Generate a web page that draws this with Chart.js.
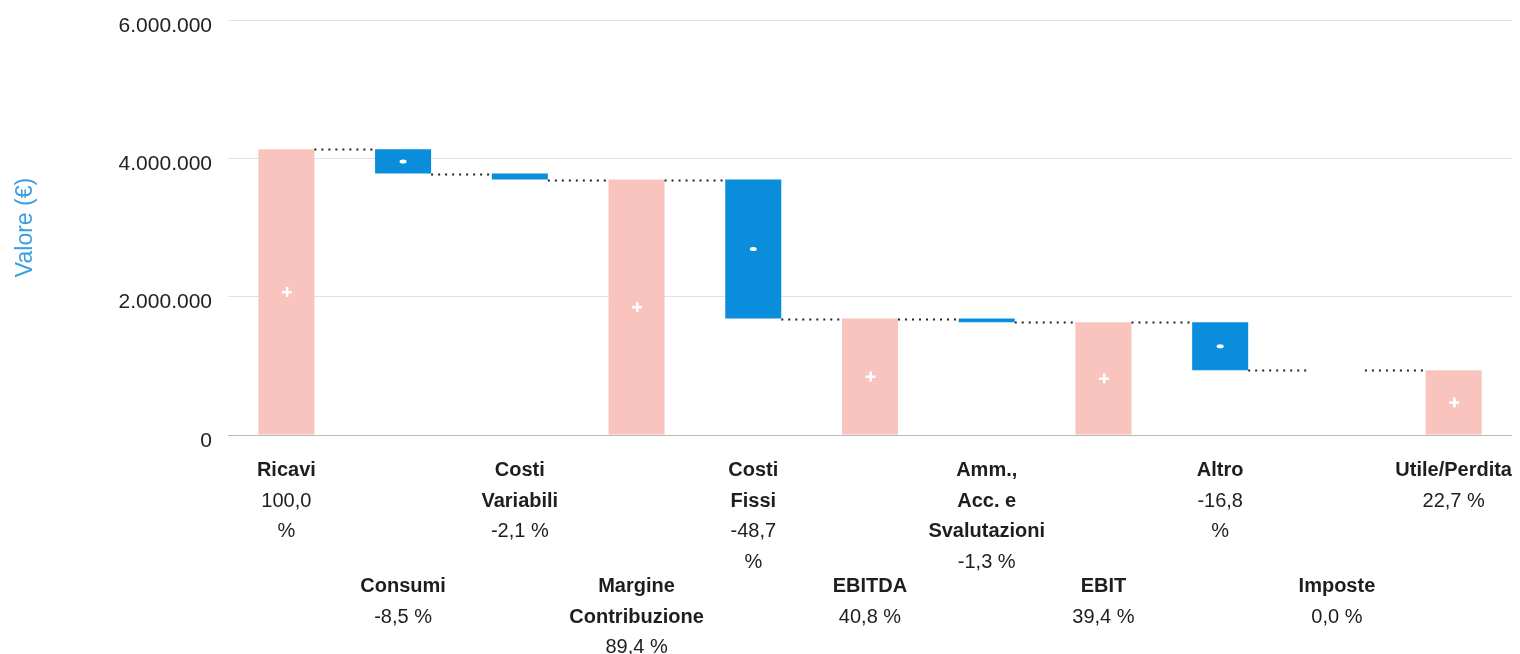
<!DOCTYPE html>
<html lang="it">
<head>
<meta charset="utf-8">
<title>Conto economico a cascata</title>
<script src="https://cdn.jsdelivr.net/npm/chart.js@4/dist/chart.umd.min.js"></script>
<style>
  html, body { margin: 0; padding: 0; background: #ffffff; }
  #wrap { width: 1520px; height: 654px; position: relative; }
</style>
</head>
<body>
<div id="wrap"><canvas id="cascata" width="1520" height="654"></canvas></div>
<script>
// Voci del conto economico (righe in grassetto sotto ogni barra)
const nameLines = [
  ['Ricavi'], ['Consumi'], ['Costi', 'Variabili'], ['Margine', 'Contribuzione'],
  ['Costi', 'Fissi'], ['EBITDA'], ['Amm.,', 'Acc. e', 'Svalutazioni'], ['EBIT'],
  ['Altro'], ['Imposte'], ['Utile/Perdita']
];
// Incidenza percentuale sui ricavi
const pctLines = [
  ['100,0', '%'], ['-8,5 %'], ['-2,1 %'], ['89,4 %'], ['-48,7', '%'], ['40,8 %'],
  ['-1,3 %'], ['39,4 %'], ['-16,8', '%'], ['0,0 %'], ['22,7 %']
];
// Importi in euro: i totali sono valori assoluti, le altre voci variazioni
const amounts = [4130000, -349400, -86730, 3693870, -2009660, 1684210, -55340, 1628870, -693010, 0, 935860];
const isTotal = [true, false, false, true, false, true, false, true, false, false, true];
const yTicks = [0, 2000000, 4000000, 6000000];

const categories = nameLines.map(l => l.join(' '));

// Intervalli flottanti e livello progressivo dopo ogni voce
const ranges = [];
const levels = [];
let running = 0;
amounts.forEach((v, i) => {
  if (isTotal[i]) { ranges.push([0, v]); running = v; }
  else { ranges.push([running, running + v]); running += v; }
  levels.push(running);
});

const PINK = '#f9c3be';
const BLUE = '#0a8edb';
const FONT = '"Liberation Sans", Arial, sans-serif';

const fmtIt = n => String(n).replace(/\B(?=(\d{3})+(?!\d))/g, '.');

// Linee tratteggiate di raccordo tra una barra e la successiva
const connectors = {
  id: 'connectors',
  afterDatasetsDraw(chart) {
    const meta = chart.getDatasetMeta(0);
    const y = chart.scales.y;
    const ctx = chart.ctx;
    ctx.save();
    ctx.strokeStyle = '#222';
    ctx.lineWidth = 2;
    ctx.setLineDash([2, 5]);
    for (let i = 0; i < meta.data.length - 1; i++) {
      const a = meta.data[i], b = meta.data[i + 1];
      const py = Math.round(y.getPixelForValue(levels[i])) + 0.5;
      ctx.beginPath();
      ctx.moveTo(a.x + a.width / 2, py);
      ctx.lineTo(b.x - b.width / 2, py);
      ctx.stroke();
    }
    ctx.restore();
  }
};

// Segni + / - al centro delle barre abbastanza alte
const signs = {
  id: 'signs',
  afterDatasetsDraw(chart) {
    const meta = chart.getDatasetMeta(0);
    const ctx = chart.ctx;
    ctx.save();
    ctx.fillStyle = '#ffffff';
    meta.data.forEach((bar, i) => {
      if (Math.abs(bar.base - bar.y) < 10) return;
      const cy = (bar.y + bar.base) / 2;
      if (isTotal[i]) {
        ctx.fillRect(bar.x - 4.5, cy - 1, 10, 2.5);
        ctx.fillRect(bar.x - 0.5, cy - 5, 2.5, 10);
      } else {
        ctx.beginPath();
        ctx.ellipse(bar.x, cy, 3.5, 2, 0, 0, Math.PI * 2);
        ctx.fill();
      }
    });
    ctx.restore();
  }
};

// Etichette delle categorie su due file alternate
const catLabels = {
  id: 'catLabels',
  afterDraw(chart) {
    const x = chart.scales.x;
    const base = chart.chartArea.bottom;
    const ctx = chart.ctx;
    const lh = 30.5;
    ctx.save();
    ctx.fillStyle = '#1e1e1e';
    ctx.textAlign = 'center';
    ctx.textBaseline = 'alphabetic';
    nameLines.forEach((names, i) => {
      const cx = x.getPixelForValue(i);
      let yy = base + (i % 2 === 0 ? 41 : 157);
      ctx.font = 'bold 20px ' + FONT;
      names.forEach(t => { ctx.fillText(t, cx, yy); yy += lh; });
      ctx.font = '20px ' + FONT;
      pctLines[i].forEach(t => { ctx.fillText(t, cx, yy); yy += lh; });
    });
    ctx.restore();
  }
};

new Chart(document.getElementById('cascata'), {
  type: 'bar',
  data: {
    labels: categories,
    datasets: [{
      data: ranges,
      backgroundColor: isTotal.map(t => t ? PINK : BLUE),
      borderWidth: 0,
      barPercentage: 0.48,
      categoryPercentage: 1.0
    }]
  },
  options: {
    responsive: false,
    animation: false,
    events: [],
    layout: { padding: { top: 20, right: 8, bottom: 211, left: 0 } },
    plugins: {
      legend: { display: false },
      tooltip: { enabled: false }
    },
    scales: {
      x: {
        grid: { display: false },
        border: { display: false },
        ticks: { display: false }
      },
      y: {
        min: 0,
        max: 6000000,
        afterBuildTicks(scale) { scale.ticks = yTicks.map(v => ({ value: v })); },
        afterFit(scale) {
          scale.width = 228;
          scale.paddingTop = 0;
          scale.paddingBottom = 0;
        },
        border: { display: false },
        grid: {
          drawTicks: false,
          color: ctx => ctx.tick && ctx.tick.value === 0 ? '#b9b9b9' : '#e2e2e2',
          lineWidth: 1
        },
        ticks: {
          padding: 16,
          labelOffset: 6,
          color: '#222',
          font: { family: FONT, size: 21 },
          callback: v => fmtIt(v)
        },
        title: {
          display: true,
          text: 'Valore (€)',
          color: '#3a9ee0',
          font: { family: FONT, size: 23 },
          padding: { top: 12, bottom: 0 }
        }
      }
    }
  },
  plugins: [connectors, signs, catLabels]
});
</script>
</body>
</html>
